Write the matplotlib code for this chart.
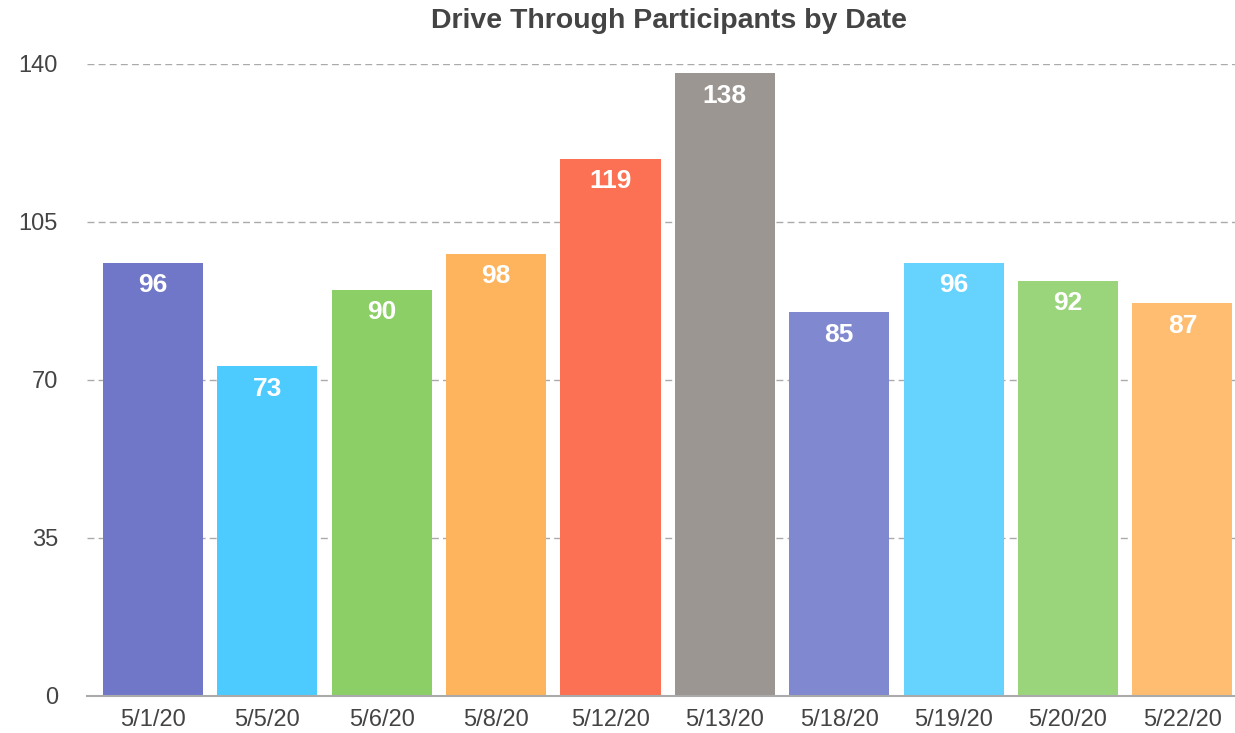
import matplotlib
matplotlib.use("Agg")
import matplotlib.pyplot as plt

plt.rcParams['font.family'] = ['Liberation Sans', 'DejaVu Sans']

# data
dates = ["5/1/20", "5/5/20", "5/6/20", "5/8/20", "5/12/20",
         "5/13/20", "5/18/20", "5/19/20", "5/20/20", "5/22/20"]
participants = [96, 73, 90, 98, 119, 138, 85, 96, 92, 87]
colors = ["#7077C8", "#4DCBFF", "#8CCF67", "#FDB45C", "#FC7153",
          "#9B9691", "#8088D0", "#66D3FE", "#9BD57B", "#FEBD70"]
yticks = [0, 35, 70, 105, 140]

fig = plt.figure(figsize=(12.35, 7.33), dpi=100)
ax = fig.add_axes([87 / 1235, 1 - 696 / 733, (1235 - 87) / 1235, (696 - 64) / 733])

x = range(len(dates))
bars = ax.bar(x, participants, width=0.875, color=colors, zorder=3)

for b, v in zip(bars, participants):
    ax.text(b.get_x() + b.get_width() / 2, v - 5.0, str(v),
            ha="center", va="center", color="white",
            fontsize=19, fontweight="bold", zorder=4)

ax.set_ylim(0, 140)
ax.set_xlim(-0.577, 9.46)
ax.set_yticks(yticks)
ax.yaxis.grid(True, linestyle=(0, (5, 3)), color="#AAAAAA", linewidth=1, zorder=0)
ax.set_xticks(list(x))
ax.set_xticklabels(dates)
ax.tick_params(axis="both", length=0, labelsize=17, colors="#444444")
ax.tick_params(axis="y", pad=21)
ax.tick_params(axis="x", pad=9)

for s in ["top", "right", "left"]:
    ax.spines[s].set_visible(False)
ax.spines["bottom"].set_color("#AAAAAA")
ax.spines["bottom"].set_linewidth(1.5)
ax.spines["bottom"].set_zorder(5)

fig.text(669 / 1235, 1 - 21 / 733, "Drive Through Participants by Date",
         ha="center", va="center", fontsize=20.5, fontweight="bold", color="#444444")

fig.savefig("out.png", dpi=100)
